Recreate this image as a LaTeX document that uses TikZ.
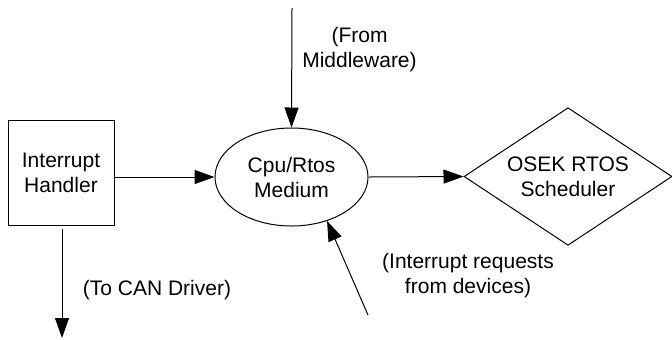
\documentclass[tikz,border=0pt]{standalone}
\usepackage{fontspec}
\setmainfont{Liberation Sans}
\usetikzlibrary{shapes.geometric,arrows.meta}
\begin{document}
\begin{tikzpicture}[x=0.5pt,y=-0.5pt,font=\fontsize{10.5}{12.5}\selectfont]
\tikzstyle{block} = [rectangle, draw=black, line width=0.5pt, minimum width=53pt, minimum height=52.5pt, inner sep=0pt, align=center]
\tikzstyle{medium} = [ellipse, draw=black, line width=0.5pt, minimum width=76.5pt, minimum height=49pt, inner sep=0pt, align=center]
\tikzstyle{decision} = [diamond, draw=black, line width=0.5pt, minimum width=104pt, minimum height=47.5pt, inner sep=-3pt, align=center]
\tikzstyle{label} = [align=center, inner sep=0pt]
\tikzstyle{arrow} = [->, >={Triangle[length=10pt,width=7pt]}, line width=0.5pt]

\useasboundingbox (0,0) rectangle (672,339);

\node (InterruptHandler) [block] at (61,172.5) {Interrupt\\Handler};
\node (CpuRtosMedium) [medium] at (291.5,177) {Cpu/Rtos\\Medium};
\node (OsekScheduler) [decision] at (568,176.5) {OSEK RTOS\\Scheduler};

\coordinate (FromMiddleware) at (292,8);
\coordinate (ToCanDriver) at (62,338);
\coordinate (FromDevices) at (368,315);

\node (MiddlewareLabel) [label] at (359.5,49.5) {(From\\Middleware)};
\node (CanDriverLabel) [label] at (157,290) {(To CAN Driver)};
\node (DevicesLabel) [label] at (468,275.5) {(Interrupt requests\\from devices)};

\draw [arrow] (FromMiddleware) -- (CpuRtosMedium.north);
\draw [arrow] (InterruptHandler.east |- CpuRtosMedium.west) -- (CpuRtosMedium.west);
\draw [arrow] (CpuRtosMedium.east) -- (OsekScheduler.west);
\draw [arrow] (FromDevices) -- (CpuRtosMedium.-51);
\draw [arrow] ([xshift=0.5pt,yshift=-1.5pt]InterruptHandler.south) -- (ToCanDriver);

\end{tikzpicture}
\end{document}
